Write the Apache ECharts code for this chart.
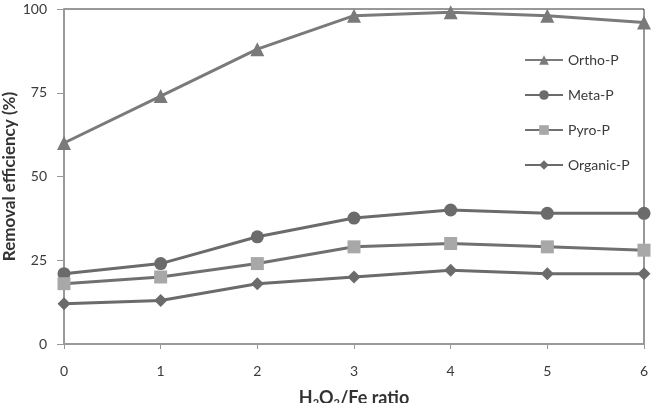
<!DOCTYPE html>
<html>
<head>
<meta charset="utf-8">
<script src="https://cdn.jsdelivr.net/npm/echarts@6/dist/echarts.min.js"></script>
<style>html,body{margin:0;padding:0;background:#fff}#c{width:657px;height:403px}</style>
</head>
<body>
<div id="c"></div>
<script>
var xValues = [0, 1, 2, 3, 4, 5, 6];
var orthoP = [60, 74, 88, 98, 99, 98, 96];
var metaP = [21, 24, 32, 37.6, 40, 39, 39];
var pyroP = [18, 20, 24, 29, 30, 29, 28];
var organicP = [12, 13, 18, 20, 22, 21, 21];
var seriesNames = ['Ortho-P', 'Meta-P', 'Pyro-P', 'Organic-P'];

function pairs(vals) { return xValues.map(function (x, i) { return [x, vals[i]]; }); }

var FONT = 'Lato, "Open Sans", sans-serif';
var chart = echarts.init(document.getElementById('c'), null, {renderer: 'canvas'});

function mk(name, vals, symbol, size, lineColor, markerColor) {
  return {
    name: name, type: 'line', data: pairs(vals),
    symbol: symbol, symbolSize: size, showAllSymbol: true,
    lineStyle: {color: lineColor, width: 3},
    itemStyle: {color: markerColor, borderWidth: 0},
    animation: false, z: 3
  };
}

chart.setOption({
  animation: false,
  grid: {left: 64, right: 13, top: 9, bottom: 59, outerBoundsMode: 'none', containLabel: false,
         show: true, borderColor: '#333', borderWidth: 1, backgroundColor: 'transparent'},
  legend: {
    orient: 'vertical', left: 519, top: 48, itemWidth: 38, itemHeight: 12, itemGap: 21,
    textStyle: {fontFamily: FONT, fontSize: 14, color: '#3a3a3a'},
    data: seriesNames
  },
  xAxis: {
    type: 'value', min: 0, max: 6, interval: 1,
    name: '{b|H}{s|2}{b|O}{s|2}{b|/Fe ratio}', nameLocation: 'middle', nameGap: 44, nameMoveOverlap: false,
    nameTextStyle: {rich: {
      b: {fontFamily: FONT, fontSize: 18, fontWeight: 'bold', color: '#333'},
      s: {fontFamily: FONT, fontSize: 11, fontWeight: 'bold', color: '#333', verticalAlign: 'bottom', padding: [10, 0, 0, 0]}
    }},
    axisLine: {lineStyle: {color: '#999', width: 2}},
    axisTick: {show: true, length: 5, lineStyle: {color: '#999'}},
    axisLabel: {fontFamily: FONT, fontSize: 14, color: '#3a3a3a', margin: 20},
    splitLine: {show: false}
  },
  yAxis: {
    type: 'value', min: 0, max: 100, interval: 25,
    name: 'Removal efficiency (%)', nameLocation: 'middle', nameGap: 46, nameRotate: 90, nameMoveOverlap: false,
    nameTextStyle: {fontFamily: FONT, fontSize: 17, fontWeight: 'bold', color: '#333'},
    axisLine: {show: true, lineStyle: {color: '#999', width: 2}},
    axisTick: {show: true, length: 7, lineStyle: {color: '#999'}},
    axisLabel: {fontFamily: FONT, fontSize: 14, color: '#3a3a3a', margin: 17},
    splitLine: {show: false}
  },
  series: [
    mk('Ortho-P', orthoP, 'triangle', 14, '#7a7a7a', '#7a7a7a'),
    mk('Meta-P', metaP, 'circle', 13, '#6b6b6b', '#6b6b6b'),
    mk('Pyro-P', pyroP, 'rect', 13, '#707070', '#a8a8a8'),
    mk('Organic-P', organicP, 'diamond', 13, '#6b6b6b', '#6b6b6b')
  ]
});
</script>
</body>
</html>
